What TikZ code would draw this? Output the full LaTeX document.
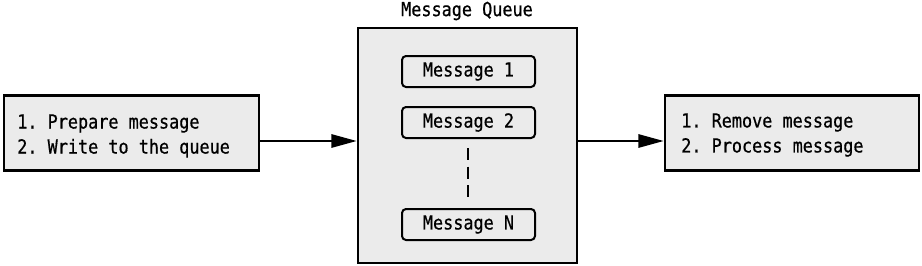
\documentclass[tikz,border=0pt]{standalone}
\usepackage{fontspec}
\setmonofont[FakeStretch=0.87,FakeBold=0.6]{DejaVu Sans Mono}
\usetikzlibrary{arrows.meta}
\definecolor{boxgray}{HTML}{EBEBEB}
\begin{document}
\begin{tikzpicture}[x=0.75pt,y=-0.75pt,
  font=\ttfamily\fontsize{14.5}{18.75}\selectfont,
  bigbox/.style={draw,line width=2pt,fill=boxgray,inner sep=0pt},
  msgbox/.style={draw,line width=1.5pt,fill=boxgray,rounded corners=3pt,minimum width=133*0.75pt,minimum height=31*0.75pt,inner sep=0pt},
  conn/.style={line width=1.5pt,-{Triangle[length=19pt,width=10pt]}}]
\useasboundingbox (0,0) rectangle (922,265);
\node[bigbox,minimum width=255*0.75pt,minimum height=75*0.75pt] (prod) at (131.5,133) {};
\node[anchor=west,align=left,inner sep=0pt] (prodtxt) at (17,136) {1. Prepare message\\2. Write to the queue};
\node[bigbox,minimum width=219*0.75pt,minimum height=235*0.75pt] (queue) at (467.5,145.5) {};
\node (title) at (467,11) {Message Queue};
\node[msgbox] (m1) at (468.5,71.5) {Message 1};
\node[msgbox] (m2) at (468.5,122.5) {Message 2};
\node[msgbox] (mn) at (468.5,224.5) {Message N};
\coordinate (d1) at (468,148);
\coordinate (d2) at (468,200);
\draw[line width=1.5pt,dash pattern=on 9pt off 5pt] (d1) -- (d2);
\node[bigbox,minimum width=254*0.75pt,minimum height=75*0.75pt] (cons) at (792,133) {};
\node[anchor=west,align=left,inner sep=0pt] (constxt) at (681,135) {1. Remove message\\2. Process message};
\draw[conn] (prod.east |- 0,141) -- (queue.west |- 0,141);
\draw[conn] (queue.east |- 0,141) -- (cons.west |- 0,141);
\end{tikzpicture}
\end{document}
